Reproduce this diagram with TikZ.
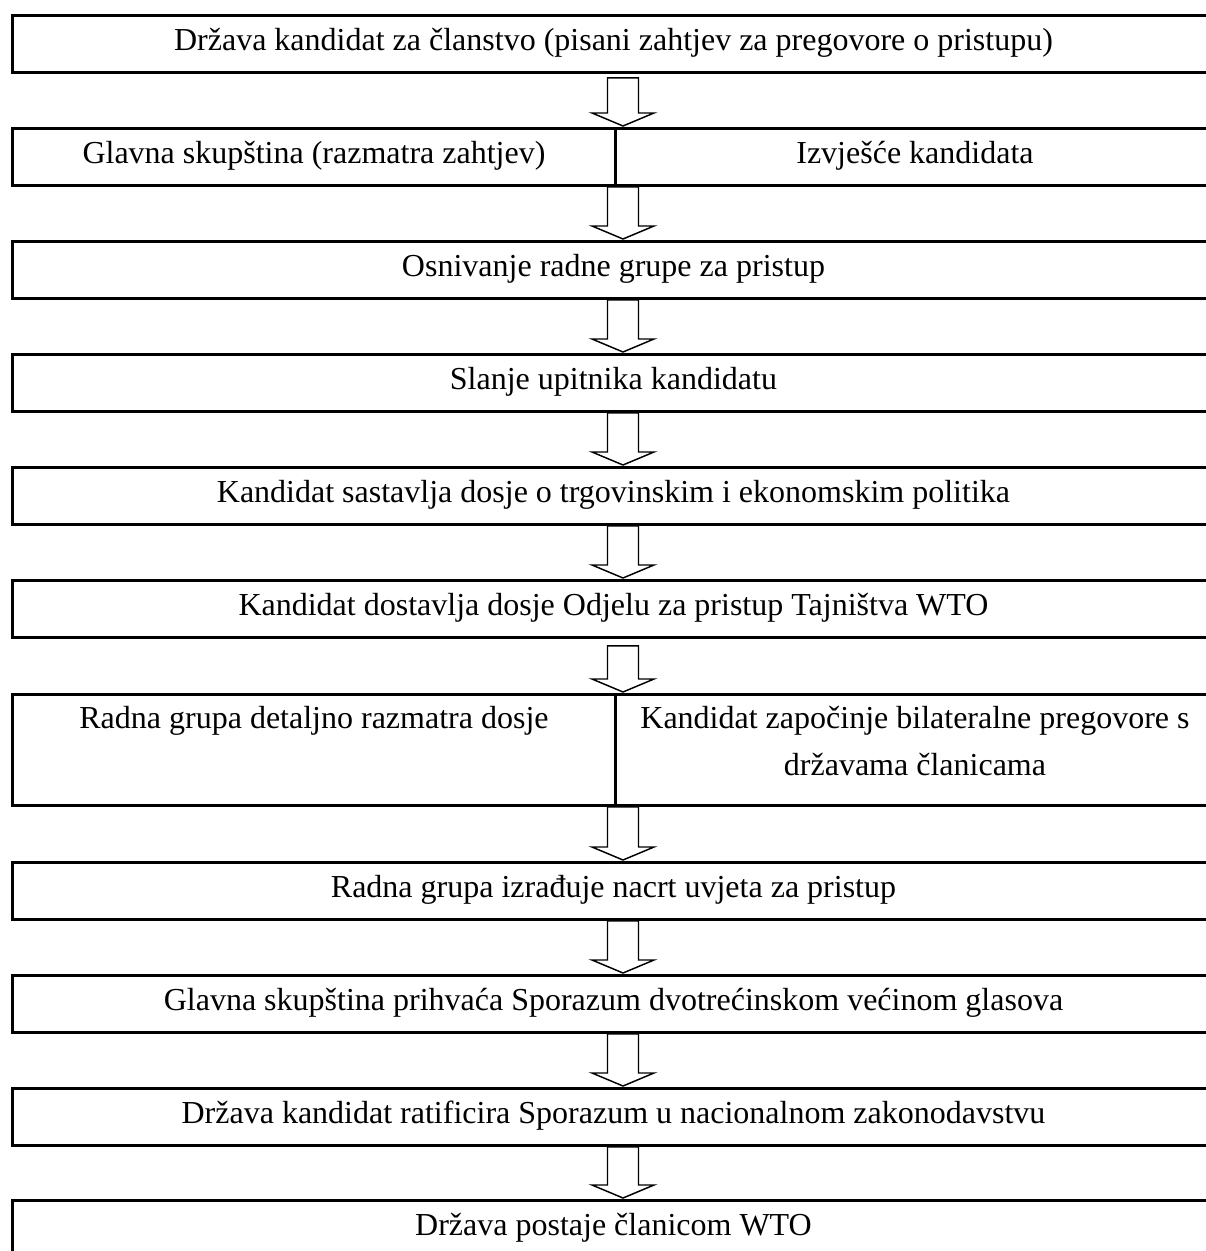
\documentclass[tikz,border=0pt]{standalone}
\usepackage{fontspec}
\setmainfont{Liberation Serif}
\usetikzlibrary{calc}

\tikzset{
  stepbox/.style={draw, line width=1.1pt, anchor=north west, inner sep=0pt,
    text height=13.125pt, text depth=8.25pt, minimum width=450.75pt},
  lefthalf/.style={stepbox, minimum width=226.125pt},
  righthalf/.style={stepbox, minimum width=224.625pt},
  tallbox/.style={text height=12.75pt, text depth=28.875pt},
  arrowline/.style={draw, fill=white, line width=0.55pt, line join=miter}
}

% hollow block arrow from the bottom of #2 to the top of #3
\newcommand\flowarrow[3][0]{%
  \path (#2.south -| ax) coordinate (s) (#3.north -| ax) coordinate (t);
  \draw[arrowline] ($(s)+(-15.5,#1)$) -- ($(t)+(-15.5,-14)$) -- ($(t)+(-31,-14)$)
    -- ($(t)+(0,-1)$) -- ($(t)+(31,-14)$) -- ($(t)+(15.5,-14)$) -- ($(s)+(15.5,#1)$) -- cycle;}

\begin{document}
\begin{tikzpicture}[x=0.375pt, y=-0.375pt, font=\fontsize{12pt}{14.4pt}\selectfont]
  \useasboundingbox (0,0) rectangle (1205,1251);
  \coordinate (ax) at (623,0);

  \node[stepbox] (b1) at (11,14) {Država kandidat za članstvo (pisani zahtjev za pregovore o pristupu)};
  \node[lefthalf] (b2l) at (11,127) {Glavna skupština (razmatra zahtjev)};
  \node[righthalf] (b2r) at (614,127) {Izvješće kandidata};
  \node[stepbox] (b3) at (11,240) {Osnivanje radne grupe za pristup};
  \node[stepbox] (b4) at (11,353) {Slanje upitnika kandidatu};
  \node[stepbox] (b5) at (11,466) {Kandidat sastavlja dosje o trgovinskim i ekonomskim politika};
  \node[stepbox] (b6) at (11,579) {Kandidat dostavlja dosje Odjelu za pristup Tajništva WTO};
  \node[lefthalf, tallbox] (b7l) at (11,693) {Radna grupa detaljno razmatra dosje};
  \node[righthalf, tallbox] (b7r) at (614,693)
    {\begin{tabular}[t]{@{}c@{}}Kandidat započinje bilateralne pregovore s\\[3.2pt] državama članicama\end{tabular}};
  \node[stepbox] (b8) at (11,861) {Radna grupa izrađuje nacrt uvjeta za pristup};
  \node[stepbox] (b9) at (11,974) {Glavna skupština prihvaća Sporazum dvotrećinskom većinom glasova};
  \node[stepbox] (b10) at (11,1087) {Država kandidat ratificira Sporazum u nacionalnom zakonodavstvu};
  \node[stepbox] (b11) at (11,1199) {Država postaje članicom WTO};

  \flowarrow[4]{b1}{b2r}
  \flowarrow{b2r}{b3}
  \flowarrow{b3}{b4}
  \flowarrow{b4}{b5}
  \flowarrow{b5}{b6}
  \flowarrow[7]{b6}{b7r}
  \flowarrow{b7r}{b8}
  \flowarrow{b8}{b9}
  \flowarrow{b9}{b10}
  \flowarrow{b10}{b11}
\end{tikzpicture}
\end{document}
